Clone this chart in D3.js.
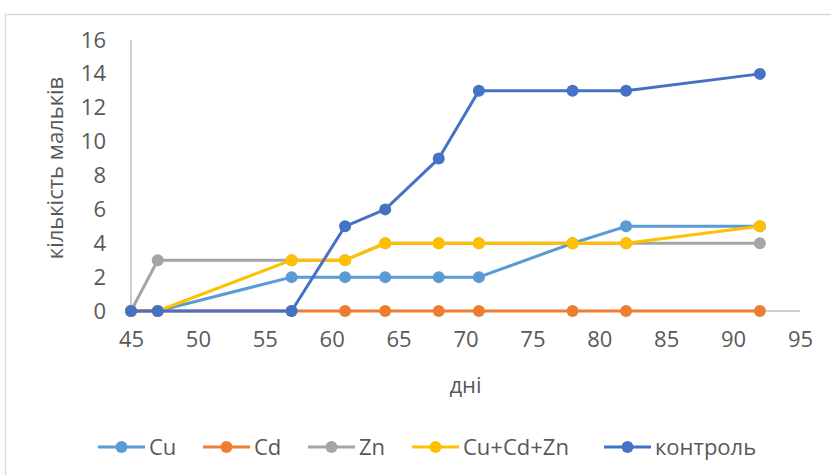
<!DOCTYPE html>
<html><head><meta charset="utf-8">
<script src="https://cdn.jsdelivr.net/npm/d3@7"></script>
<style>body{margin:0;background:#fff}svg{display:block}</style>
</head><body>
<script>
const days = [45, 47, 57, 61, 64, 68, 71, 78, 82, 92];
const seriesNames = ["Cu", "Cd", "Zn", "Cu+Cd+Zn", "контроль"];
const cu = [0, 0, 2, 2, 2, 2, 2, 4, 5, 5];
const cd = [0, 0, 0, 0, 0, 0, 0, 0, 0, 0];
const zn = [0, 3, 3, 3, 4, 4, 4, 4, 4, 4];
const mix = [0, 0, 3, 3, 4, 4, 4, 4, 4, 5];
const control = [0, 0, 0, 5, 6, 9, 13, 13, 13, 14];
const xTicks = [45, 50, 55, 60, 65, 70, 75, 80, 85, 90, 95];
const yTicks = [0, 2, 4, 6, 8, 10, 12, 14, 16];
const colors = ["#5B9BD5", "#ED7D31", "#A5A5A5", "#FFC000", "#4472C4"];

const values = [cu, cd, zn, mix, control];
const W = 831, H = 475;
const font = "'Open Sans','Noto Sans',sans-serif";
const fs = 22;
const svg = d3.select("body").append("svg").attr("width", W).attr("height", H);

svg.append("rect").attr("x", 5.5).attr("y", 14.5).attr("width", 840).attr("height", 480)
  .attr("fill", "#fff").attr("stroke", "#D9D9D9").attr("stroke-width", 1.5);

const x = d3.scaleLinear().domain([45, 95]).range([131, 800]);
const y = d3.scaleLinear().domain([0, 16]).range([311, 40]);

svg.append("line").attr("x1", x(45)).attr("x2", x(45)).attr("y1", y(16)).attr("y2", y(0))
  .attr("stroke", "#BFBFBF").attr("stroke-width", 1.5);
svg.append("line").attr("x1", x(45)).attr("x2", x(95)).attr("y1", y(0)).attr("y2", y(0))
  .attr("stroke", "#BFBFBF").attr("stroke-width", 1.5);

const xAxis = svg.append("g").attr("transform", `translate(0,${y(0)})`)
  .call(d3.axisBottom(x).tickValues(xTicks).tickSize(0).tickPadding(20));
xAxis.select(".domain").remove();
xAxis.selectAll("text").attr("font-family", font).attr("font-size", fs).attr("fill", "#595959");

const yAxis = svg.append("g").attr("transform", `translate(${x(45)},0)`)
  .call(d3.axisLeft(y).tickValues(yTicks).tickSize(0).tickPadding(25));
yAxis.select(".domain").remove();
yAxis.selectAll("text").attr("font-family", font).attr("font-size", fs).attr("fill", "#595959");

svg.append("text").attr("x", (x(45) + x(95)) / 2).attr("y", 393).attr("text-anchor", "middle")
  .attr("font-family", font).attr("font-size", fs).attr("fill", "#595959").text("дні");
svg.append("text").attr("transform", "translate(63,168) rotate(-90)").attr("text-anchor", "middle")
  .attr("font-family", font).attr("font-size", fs).attr("fill", "#595959").text("кількість мальків");

const line = d3.line().x(d => x(d[0])).y(d => y(d[1]));
values.forEach((vals, i) => {
  const pts = days.map((d, j) => [d, vals[j]]);
  const g = svg.append("g");
  g.append("path").attr("d", line(pts)).attr("fill", "none").attr("stroke", colors[i])
    .attr("stroke-width", 3).attr("stroke-linejoin", "round");
  g.selectAll("circle").data(pts).join("circle")
    .attr("cx", d => x(d[0])).attr("cy", d => y(d[1])).attr("r", 6).attr("fill", colors[i]);
});

const legendX = [98, 203, 308, 412, 604];
const lg = svg.append("g");
seriesNames.forEach((n, i) => {
  const lx = legendX[i], ly = 447;
  lg.append("line").attr("x1", lx).attr("x2", lx + 47).attr("y1", ly).attr("y2", ly)
    .attr("stroke", colors[i]).attr("stroke-width", 3);
  lg.append("circle").attr("cx", lx + 23.5).attr("cy", ly).attr("r", 6).attr("fill", colors[i]);
  lg.append("text").attr("x", lx + 51).attr("y", ly + 8).attr("font-family", font)
    .attr("font-size", fs).attr("fill", "#595959").text(n);
});
</script>
</body></html>
